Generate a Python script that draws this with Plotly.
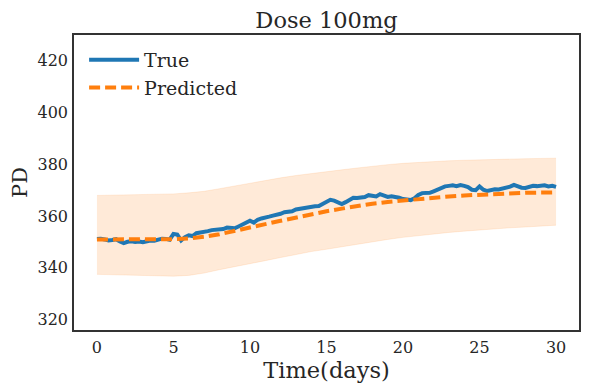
import plotly.graph_objects as go

# observed PD, sampled every quarter day
t_true = [i * 0.25 for i in range(121)]
pd_true = [
    351.2, 351.3, 351.0, 350.6, 350.8, 351.1, 350.2, 349.6, 350.1, 350.3,
    350.0, 350.2, 349.9, 350.4, 350.6, 350.5, 350.9, 351.3, 351.2, 350.9,
    353.1, 352.9, 350.6, 351.9, 352.6, 352.3, 353.4, 353.6, 353.8, 354.2,
    354.6, 354.8, 354.7, 355.0, 355.6, 355.4, 355.3, 356.0, 356.6, 357.6,
    358.2, 357.5, 358.6, 359.1, 359.3, 359.8, 360.2, 360.5, 360.9, 361.5,
    361.7, 361.9, 362.6, 362.9, 363.0, 363.3, 363.6, 363.8, 363.9, 364.6,
    365.6, 366.3, 366.0, 365.4, 364.7, 365.4, 366.4, 367.1, 367.0, 367.3,
    367.4, 368.1, 367.9, 367.6, 368.5, 367.8, 367.4, 367.7, 367.5, 367.1,
    366.6, 366.3, 366.2, 366.9, 368.2, 368.9, 369.1, 369.0, 369.6, 370.2,
    371.1, 371.5, 371.7, 371.9, 371.6, 372.0, 371.7, 371.2, 370.2, 370.0,
    371.5, 370.2, 369.7, 370.1, 370.4, 370.3, 370.6, 370.8, 371.4, 372.1,
    371.4, 371.0, 370.9, 371.4, 371.7, 371.6, 371.8, 371.9, 371.5, 371.7,
    371.3,
]

# model prediction with its interval, one value per day
t_pred = list(range(31))
pd_pred = [
    351.0, 351.0, 351.0, 351.0, 351.0, 351.1, 351.4, 352.0, 353.0, 354.2,
    355.5, 356.9, 358.2, 359.5, 360.7, 361.9, 362.9, 363.9, 364.8, 365.5,
    366.1, 366.7, 367.2, 367.6, 368.0, 368.3, 368.6, 368.8, 369.0, 369.1,
    369.2,
]
pd_upper = [
    368.0, 368.1, 368.2, 368.3, 368.4, 368.6, 369.0, 369.6, 370.6, 371.7,
    372.8, 373.8, 374.8, 375.7, 376.5, 377.2, 377.9, 378.6, 379.3, 379.9,
    380.4, 380.8, 381.1, 381.4, 381.6, 381.8, 382.0, 382.1, 382.2, 382.3,
    382.4,
]
pd_lower = [
    337.5, 337.4, 337.2, 337.0, 336.9, 336.8, 337.1, 338.0, 339.3, 340.4,
    341.6, 342.8, 344.0, 345.2, 346.3, 347.2, 348.2, 349.2, 350.2, 351.0,
    351.8, 352.5, 353.1, 353.7, 354.2, 354.7, 355.1, 355.5, 355.8, 356.1,
    356.5,
]

font = "DejaVu Serif"
text_col = "#262626"
band_col = "rgba(255,127,14,0.16)"

fig = go.Figure()
# interval band
fig.add_trace(go.Scatter(x=t_pred, y=pd_upper, mode="lines",
                         line=dict(color="rgba(255,127,14,0.12)", width=1),
                         showlegend=False, hoverinfo="skip"))
fig.add_trace(go.Scatter(x=t_pred, y=pd_lower, mode="lines", fill="tonexty",
                         fillcolor=band_col,
                         line=dict(color="rgba(255,127,14,0.12)", width=1),
                         showlegend=False, hoverinfo="skip"))
fig.add_trace(go.Scatter(x=t_true, y=pd_true, mode="lines", name="True",
                         line=dict(color="#1f77b4", width=4)))
fig.add_trace(go.Scatter(x=t_pred, y=pd_pred, mode="lines", name="Predicted",
                         line=dict(color="#ff7f0e", width=4, dash="11px,5px")))

axis_common = dict(showgrid=False, zeroline=False, showline=True, mirror=True,
                   linecolor="#333333", linewidth=1.5, ticks="", automargin=False,
                   tickfont=dict(family=font, size=16, color=text_col))

# the page body adds an 8px offset, so margins are pulled in by that much
fig.update_layout(
    width=590, height=390,
    margin=dict(l=66, r=19, t=27, b=68),
    paper_bgcolor="white", plot_bgcolor="white",
    title=dict(text="Dose 100mg", x=0.5, xref="paper", xanchor="center",
               y=0.969, yanchor="middle", automargin=False,
               font=dict(family=font, size=22.5, color=text_col)),
    xaxis=dict(range=[-1.5, 31.5], tickvals=[0, 5, 10, 15, 20, 25, 30],
               ticklabelstandoff=2,
               title=dict(text="Time(days)", standoff=4,
                          font=dict(family=font, size=22.5, color=text_col)),
               **axis_common),
    yaxis=dict(range=[316, 430], tickvals=[320, 340, 360, 380, 400, 420],
               ticklabelstandoff=1,
               title=dict(text="PD", standoff=12,
                          font=dict(family=font, size=21, color=text_col)),
               **axis_common),
    legend=dict(x=0.02, y=0.98, xanchor="left", yanchor="top",
                traceorder="normal", bgcolor="rgba(0,0,0,0)", tracegroupgap=0,
                itemwidth=50,
                font=dict(family=font, size=19, color=text_col)),
    showlegend=True,
)

fig.write_html("out.html")
